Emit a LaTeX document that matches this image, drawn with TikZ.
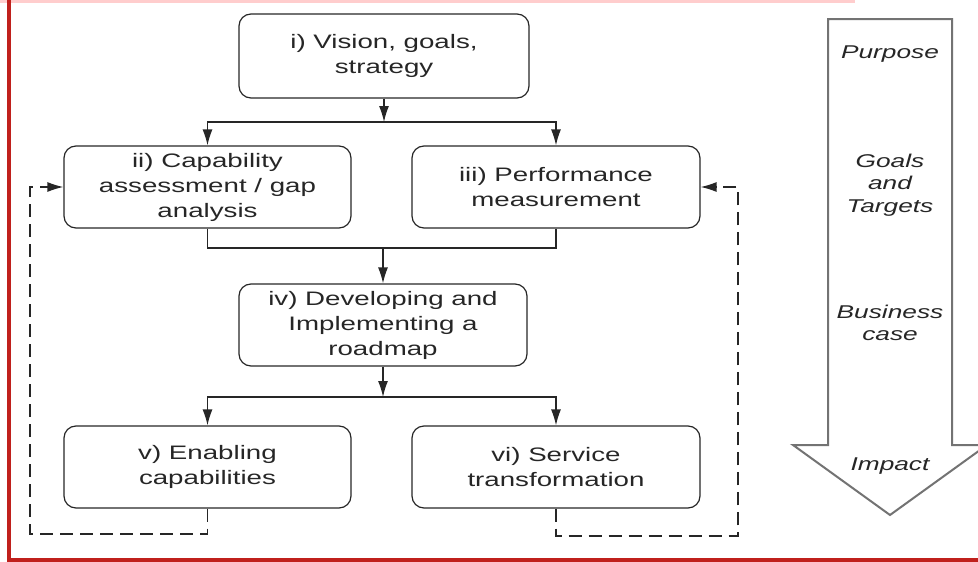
\documentclass[tikz,border=0pt]{standalone}
\usepackage{fontspec}
\setmainfont[FakeStretch=1.42]{Liberation Sans}
\usepackage{tikz}
\usetikzlibrary{arrows.meta,calc}
\usetikzlibrary{positioning}
\definecolor{framered}{RGB}{192,32,28}
\definecolor{stripepink}{RGB}{255,205,205}
\tikzset{
    %Define standard arrow tip
    >={Latex[length=16pt,width=10pt]},
    % Define box style
    stage/.style={
           draw=black!85,
           line width=1.2pt,
           rounded corners=12pt,
           minimum width=288pt,
           minimum height=82pt,
           inner sep=0pt,
           align=center,
           text=black!85,
           font=\fontsize{19.5}{25}\selectfont,
           },
    % Define arrow styles
    flow/.style={
           ->,
           line width=1.3pt,
           black!85,
           },
    feedback/.style={
           ->,
           line width=1.3pt,
           dash pattern=on 13pt off 7pt,
           black!85,
           },
    level/.style={
           align=center,
           text=black!85,
           font=\fontsize{18.5}{22.5}\selectfont\itshape,
}
}

\begin{document}
\begin{tikzpicture}[x=1pt,y=-1pt]
  	\useasboundingbox (0,0) rectangle (978,562);
  	\fill[stripepink] (0,0) rectangle (855,2.5);
  	\draw[framered,line width=4pt] (9,0) -- (9,560) -- (978,560);
  	\draw[black!55,line width=2pt,fill=white] (828,19) -- (952,19) -- (952,445) -- (987,445) -- (890,515) -- (793,445) -- (828,445) -- cycle;
  	\node (vis) at (384,56) [stage,minimum width=290pt,minimum height=84pt] {i) Vision, goals,\\strategy};
  	\node (cap) at (207.5,187) [stage,minimum width=287pt] {ii) Capability\\assessment / gap\\analysis};
  	\node (perf) at (556,187) [stage] {iii) Performance\\measurement};
  	\node (road) at (383,325) [stage] {iv) Developing and\\Implementing a\\roadmap};
  	\node (enab) at (207.5,467) [stage,minimum width=287pt] {v) Enabling\\capabilities};
  	\node (serv) at (556,467) [stage] {vi) Service\\transformation};
  	\coordinate (j1) at (384,122);
  	\coordinate (j2) at (383,248);
  	\coordinate (j3) at (383,397);
  	\coordinate (fbl) at (30,534);
  	\coordinate (fbr) at (738,536);
  	\node (purp) at (890,54) [level] {Purpose};
  	\node (goal) at (890,185) [level] {Goals\\and\\Targets};
  	\node (busi) at (890,323) [level] {Business\\case};
  	\node (impa) at (890,466) [level] {Impact};
  	\draw [flow] (vis.south) -- (j1);
  	\draw [flow] (j1) -| (cap.north);
  	\draw [flow] (j1) -| (perf.north);
  	\draw [flow,-] (cap.south) |- (j2);
  	\draw [flow,-] (perf.south) |- (j2);
  	\draw [flow] (j2) -- (road.north);
  	\draw [flow] (road.south) -- (j3);
  	\draw [flow] (j3) -| (enab.north);
  	\draw [flow] (j3) -| (serv.north);
  	\draw [feedback] (enab.south) |- (fbl) |- (cap.west);
  	\draw [feedback] (serv.south) |- (fbr) |- (perf.east);
\end{tikzpicture}
\end{document}
